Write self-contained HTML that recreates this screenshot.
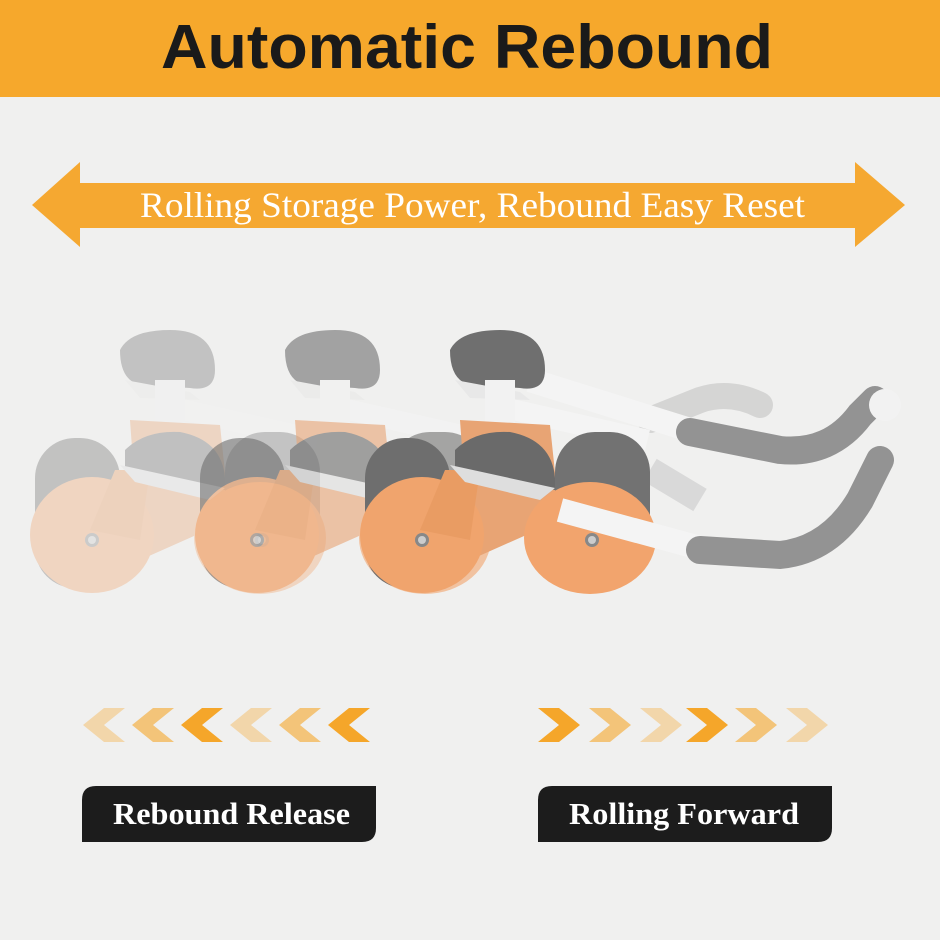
<!DOCTYPE html>
<html><head><meta charset="utf-8"><style>
html,body{margin:0;padding:0}
body{width:940px;height:940px;overflow:hidden;background:#f0f0ef;position:relative;font-family:"Liberation Serif",serif}
.hdr{position:absolute;left:0;top:0;width:940px;height:97px;background:#f6a82c}
</style></head><body>
<div class="hdr"></div>
<svg width="940" height="940" style="position:absolute;left:0;top:0">
<defs>
<g id="roller">
 <path d="M495 395 L650 430 L645 450 L490 415Z" fill="#f4f4f4"/>
 <path d="M450 350 Q460 330 500 330 Q545 330 545 370 Q545 392 520 388 L470 385 Q450 380 450 350Z" fill="#6f6f6f"/>
 <path d="M455 380 L520 392 L530 400 L470 398Z" fill="#e8e8e8"/>
 <rect x="485" y="380" width="30" height="60" fill="#f2f2f2"/>
 <path d="M460 420 L550 425 L560 520 L470 560Z" fill="#e8a474"/>
 <rect x="365" y="438" width="85" height="150" rx="40" fill="#6e6e6e"/>
 <rect x="555" y="432" width="95" height="150" rx="40" fill="#727272"/>
 <ellipse cx="590" cy="538" rx="66" ry="56" fill="#f2a46d"/>
 <ellipse cx="422" cy="535" rx="62" ry="58" fill="#f0a46d"/>
 <path d="M420 530 L445 470 L480 470 L470 540Z" fill="#e99c63"/>
 <path d="M455 450 Q475 430 510 432 Q552 440 555 478 L555 490 L455 470Z" fill="#6a6a6a"/>
 <path d="M450 465 L555 488 L540 500 L465 482Z" fill="#dedede"/>
 <circle cx="422" cy="540" r="7" fill="#888"/><circle cx="422" cy="540" r="4" fill="#ccc"/>
 <circle cx="592" cy="540" r="7" fill="#888"/><circle cx="592" cy="540" r="4" fill="#ccc"/>
</g>
</defs>
<text x="467" y="68" text-anchor="middle" fill="#1a1a1a" font-family="Liberation Sans,sans-serif" font-weight="bold" font-size="62" textLength="612" lengthAdjust="spacingAndGlyphs">Automatic Rebound</text>
<g opacity="0.35"><use href="#roller" transform="translate(-330,0)"/></g>
<g opacity="0.6"><use href="#roller" transform="translate(-165,0)"/></g>
<path d="M650 420 L700 400 Q730 390 760 405" stroke="#c9c9c9" stroke-width="26" fill="none" stroke-linecap="round" opacity="0.7"/>
<path d="M650 470 L700 500" stroke="#c9c9c9" stroke-width="26" fill="none" opacity="0.6"/>
<path d="M530 380 L690 430" stroke="#f4f4f4" stroke-width="24" fill="none"/>
<path d="M690 432 L780 450 Q830 455 860 415 L875 400" stroke="#939393" stroke-width="28" fill="none" stroke-linecap="round"/>
<circle cx="885" cy="405" r="16" fill="#f2f2f2"/>
<use href="#roller"/>
<path d="M560 510 L700 548" stroke="#f4f4f4" stroke-width="24" fill="none"/>
<path d="M700 550 L780 555 Q830 550 860 500 L880 460" stroke="#939393" stroke-width="28" fill="none" stroke-linecap="round"/>
<polygon points="32,205 80,162 80,183 855,183 855,162 905,205 855,247 855,228 80,228 80,247" fill="#f5a831"/>
<text x="140" y="217" fill="#fff" font-family="Liberation Serif,serif" font-size="36" textLength="665" lengthAdjust="spacingAndGlyphs">Rolling Storage Power, Rebound Easy Reset</text>
<g fill="#f5a62a">
 <g opacity="0.35"><polygon points="104,708 125,708 104,725 125,742 104,742 83,725"/></g>
 <g opacity="0.6"><polygon points="153,708 174,708 153,725 174,742 153,742 132,725"/></g>
 <polygon points="202,708 223,708 202,725 223,742 202,742 181,725"/>
 <g opacity="0.35"><polygon points="251,708 272,708 251,725 272,742 251,742 230,725"/></g>
 <g opacity="0.6"><polygon points="300,708 321,708 300,725 321,742 300,742 279,725"/></g>
 <polygon points="349,708 370,708 349,725 370,742 349,742 328,725"/>
 <polygon points="538,708 559,708 580,725 559,742 538,742 559,725"/>
 <g opacity="0.6"><polygon points="589,708 610,708 631,725 610,742 589,742 610,725"/></g>
 <g opacity="0.35"><polygon points="640,708 661,708 682,725 661,742 640,742 661,725"/></g>
 <polygon points="686,708 707,708 728,725 707,742 686,742 707,725"/>
 <g opacity="0.6"><polygon points="735,708 756,708 777,725 756,742 735,742 756,725"/></g>
 <g opacity="0.35"><polygon points="786,708 807,708 828,725 807,742 786,742 807,725"/></g>
</g>
<path d="M96 786 H376 V828 Q376 842 362 842 H82 V800 Q82 786 96 786Z" fill="#1c1c1c"/>
<path d="M552 786 H832 V828 Q832 842 818 842 H538 V800 Q538 786 552 786Z" fill="#1c1c1c"/>
<text x="113" y="824" fill="#fff" font-family="Liberation Serif,serif" font-weight="bold" font-size="31" textLength="237" lengthAdjust="spacingAndGlyphs">Rebound Release</text>
<text x="569" y="824" fill="#fff" font-family="Liberation Serif,serif" font-weight="bold" font-size="31" textLength="230" lengthAdjust="spacingAndGlyphs">Rolling Forward</text>
</svg>
</body></html>
